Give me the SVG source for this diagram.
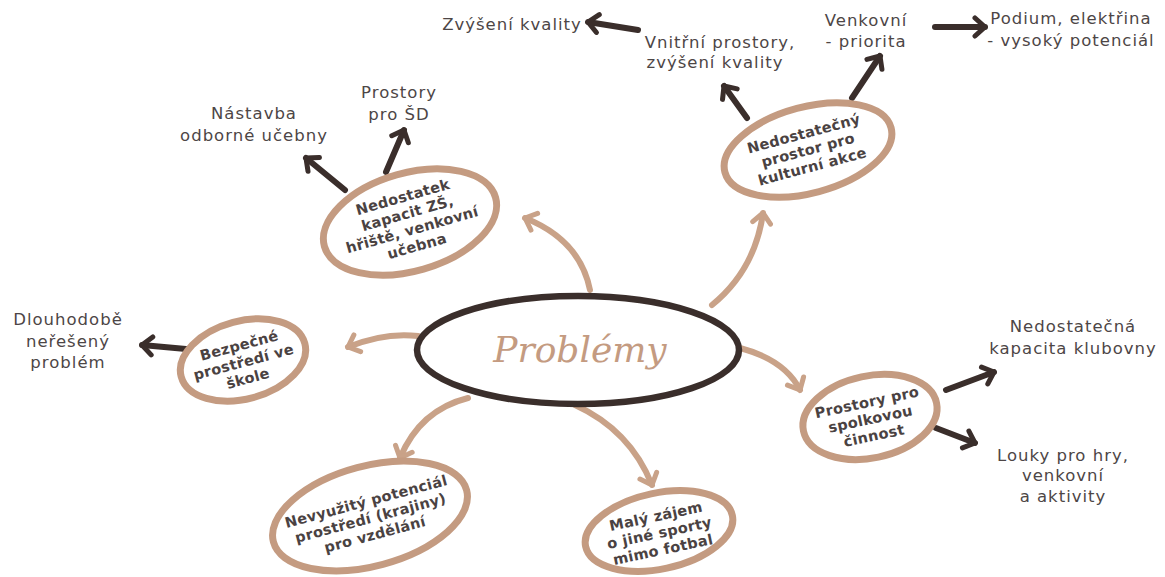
<svg xmlns="http://www.w3.org/2000/svg" width="1165" height="577" viewBox="0 0 1165 577">
<defs>
<style>
.lbl{font-family:"DejaVu Sans","Open Sans",sans-serif;font-size:16.5px;fill:#4d4646;text-anchor:middle;letter-spacing:1px}
.nt{font-family:"DejaVu Sans","Open Sans",sans-serif;font-size:14.5px;font-weight:bold;fill:#4a4242;text-anchor:middle;letter-spacing:0.3px}
.node{fill:#fff;stroke:#c49b81;stroke-width:7}
.dk{fill:none;stroke:#3a2e2b;stroke-width:6;stroke-linecap:round}
.tan{fill:none;stroke:#c9a288;stroke-width:6;stroke-linecap:round}
</style>
<marker id="ad" markerUnits="userSpaceOnUse" viewBox="-14 -12 18 24" refX="0" refY="0" markerWidth="18" markerHeight="24" orient="auto">
<path d="M-10,-9 L0,0 L-10,9" fill="none" stroke="#3a2e2b" stroke-width="5" stroke-linecap="round" stroke-linejoin="round"/>
</marker>
<marker id="at" markerUnits="userSpaceOnUse" viewBox="-14 -12 18 24" refX="0" refY="0" markerWidth="18" markerHeight="24" orient="auto">
<path d="M-10,-9 L0,0 L-10,9" fill="none" stroke="#c9a288" stroke-width="5" stroke-linecap="round" stroke-linejoin="round"/>
</marker>
</defs>
<rect width="1165" height="577" fill="#fff"/>

<g id="connectors">
<path class="tan" d="M590,290 Q580,240 525,218" marker-end="url(#at)"/>
<path class="tan" d="M712,305 Q755,270 763,213" marker-end="url(#at)"/>
<path class="tan" d="M418,336 Q385,332 348,347" marker-end="url(#at)"/>
<path class="tan" d="M468,398 Q420,410 400,458" marker-end="url(#at)"/>
<path class="tan" d="M575,405 Q630,430 652,485" marker-end="url(#at)"/>
<path class="tan" d="M740,348 Q785,360 800,390" marker-end="url(#at)"/>
<path class="dk" d="M345,190 L306,158" marker-end="url(#ad)"/>
<path class="dk" d="M386,172 L404,130" marker-end="url(#ad)"/>
<path class="dk" d="M747,118 L724,86" marker-end="url(#ad)"/>
<path class="dk" d="M852,98 L880,56" marker-end="url(#ad)"/>
<path class="dk" d="M638,30 L588,22" marker-end="url(#ad)"/>
<path class="dk" d="M935,27 L985,27" marker-end="url(#ad)"/>
<path class="dk" d="M186,349 L142,345" marker-end="url(#ad)"/>
<path class="dk" d="M946,390 L994,372" marker-end="url(#ad)"/>
<path class="dk" d="M936,428 L975,443" marker-end="url(#ad)"/>
</g>

<g id="center">
<ellipse cx="578" cy="350" rx="161" ry="54" fill="#fff" stroke="#3a2e2b" stroke-width="6.5"/>
<text x="580" y="362" style="font-family:'DejaVu Serif',serif;font-style:italic;font-size:36px;fill:#c49b81;text-anchor:middle">Problémy</text>
</g>

<g id="n1" transform="translate(410,222) rotate(-16)">
<ellipse class="node" rx="89" ry="49"/>
<text class="nt" y="-21">Nedostatek</text>
<text class="nt" y="-4">kapacit ZŠ,</text>
<text class="nt" y="13">hřiště, venkovní</text>
<text class="nt" y="30">učebna</text>
</g>

<g id="n2" transform="translate(808,150) rotate(-15)">
<ellipse class="node" rx="86" ry="43"/>
<text class="nt" y="-12">Nedostatečný</text>
<text class="nt" y="5">prostor pro</text>
<text class="nt" y="22">kulturní akce</text>
</g>

<g id="n3" transform="translate(243,360) rotate(-15)">
<ellipse class="node" rx="64" ry="39"/>
<text class="nt" y="-10">Bezpečné</text>
<text class="nt" y="7">prostředí ve</text>
<text class="nt" y="24">škole</text>
</g>

<g id="n4" transform="translate(370,516) rotate(-15)">
<ellipse class="node" rx="100" ry="50"/>
<text class="nt" y="-10">Nevyužitý potenciál</text>
<text class="nt" y="7">prostředí (krajiny)</text>
<text class="nt" y="24">pro vzdělání</text>
</g>

<g id="n5" transform="translate(659,531) rotate(-12)">
<ellipse class="node" rx="75" ry="38"/>
<text class="nt" y="-10">Malý zájem</text>
<text class="nt" y="7">o jiné sporty</text>
<text class="nt" y="24">mimo fotbal</text>
</g>

<g id="n6" transform="translate(870,417) rotate(-12)">
<ellipse class="node" rx="68" ry="41"/>
<text class="nt" y="-10">Prostory pro</text>
<text class="nt" y="7">spolkovou</text>
<text class="nt" y="24">činnost</text>
</g>

<g id="labels">
<text class="lbl" x="512" y="30">Zvýšení kvality</text>
<text class="lbl" x="720" y="48">Vnitřní prostory,</text>
<text class="lbl" x="715" y="68">zvýšení kvality</text>
<text class="lbl" x="866" y="26">Venkovní</text>
<text class="lbl" x="866" y="47">- priorita</text>
<text class="lbl" x="1071" y="24">Podium, elektřina</text>
<text class="lbl" x="1071" y="46">- vysoký potenciál</text>
<text class="lbl" x="254" y="119">Nástavba</text>
<text class="lbl" x="254" y="141">odborné učebny</text>
<text class="lbl" x="399" y="98">Prostory</text>
<text class="lbl" x="399" y="120">pro ŠD</text>
<text class="lbl" x="68" y="325">Dlouhodobě</text>
<text class="lbl" x="68" y="347">neřešený</text>
<text class="lbl" x="68" y="368">problém</text>
<text class="lbl" x="1073" y="332">Nedostatečná</text>
<text class="lbl" x="1073" y="354">kapacita klubovny</text>
<text class="lbl" x="1063" y="461">Louky pro hry,</text>
<text class="lbl" x="1063" y="481">venkovní</text>
<text class="lbl" x="1063" y="502">a aktivity</text>
</g>
</svg>
